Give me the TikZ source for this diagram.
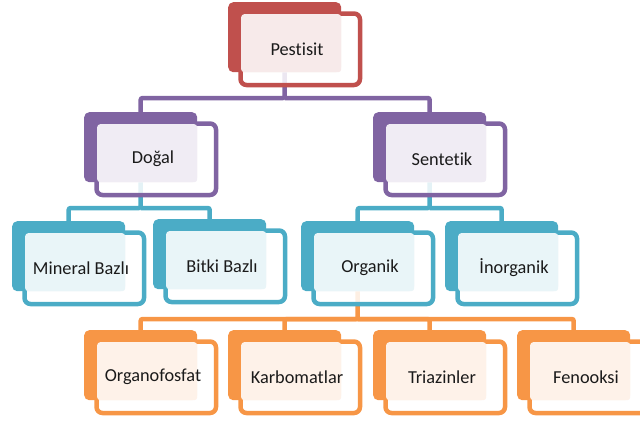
\documentclass[tikz,border=0pt]{standalone}
\usepackage{fontspec}
\setmainfont{Carlito}[Ligatures={NoCommon}]
\usetikzlibrary{calc}

\definecolor{cRed}{HTML}{C0504D}
\definecolor{cPurple}{HTML}{8064A2}
\definecolor{cBlue}{HTML}{4BACC6}
\definecolor{cOrange}{HTML}{F79646}
\definecolor{ink}{HTML}{1A1A1A}

\tikzset{
  backbox/.style={draw=none, fill=#1, rounded corners=5pt, inner sep=0pt,
    minimum width=113pt, minimum height=70pt, anchor=north west},
  framebox/.style={draw=#1, line width=4.5pt, fill=white, fill opacity=0.85,
    rounded corners=6pt, inner sep=0pt,
    minimum width=119.5pt, minimum height=71.5pt, anchor=north west},
  tintbox/.style={draw=none, fill=#1!12!white, rounded corners=3pt, inner sep=0pt,
    minimum width=100pt, minimum height=58pt, anchor=north west},
  label/.style={text=ink, font=\fontsize{18.3pt}{21pt}\selectfont, inner sep=0pt},
  link/.style={draw=#1, line width=4.5pt, rounded corners=2pt}
}

% back plate of a hierarchy item: #1 name, #2 top-left corner, #3 colour
\newcommand{\orgitem}[3]{%
  \node[backbox=#3] (#1B) at (#2) {};
  \coordinate (#1O) at (#2);
}
% offset white frame, tinted text panel and label: #1 name, #2 corner, #3 colour, #4 text
\newcommand{\orgfront}[4]{%
  \node[framebox=#3] (#1F) at ($(#2)+(10.25,9.25)$) {};
  \node[tintbox=#3] (#1T) at ($(#2)+(13,12)$) {};
  \node[label] (#1) at ($(#2)+(69,47)$) {#4};
}

\begin{document}
\begin{tikzpicture}[x=1pt, y=-1pt]
  \useasboundingbox (0,0) rectangle (640,423);
  \clip (0,0) rectangle (640,423);

  % back plates
  \orgitem{pest}{228,2}{cRed}
  \orgitem{dog}{84,112}{cPurple}
  \orgitem{sen}{373,112}{cPurple}
  \orgitem{min}{12,221}{cBlue}
  \orgitem{bit}{153,219}{cBlue}
  \orgitem{org}{301,221}{cBlue}
  \orgitem{ino}{445,221}{cBlue}
  \orgitem{ofs}{84,330}{cOrange}
  \orgitem{kar}{228,330}{cOrange}
  \orgitem{tri}{373,330}{cOrange}
  \orgitem{fen}{517,330}{cOrange}

  % bus levels
  \coordinate (busA) at (0,98);
  \coordinate (busB) at (0,208);
  \coordinate (busC) at (0,319);

  % connectors
  \draw[link=cPurple] (pestB.south) -- (pestB.south |- busA) -| (dogB.north);
  \draw[link=cPurple] (pestB.south |- busA) -| (senB.north);
  \draw[link=cBlue] (dogB.south) -- (dogB.south |- busB) -| (minB.north);
  \draw[link=cBlue] (dogB.south |- busB) -| (bitB.north);
  \draw[link=cBlue] (senB.south) -- (senB.south |- busB) -| (orgB.north);
  \draw[link=cBlue] (senB.south |- busB) -| (inoB.north);
  \draw[link=cOrange] (orgB.south) -- (orgB.south |- busC) -| (ofsB.north);
  \draw[link=cOrange] (orgB.south |- busC) -| (karB.north);
  \draw[link=cOrange] (orgB.south |- busC) -| (triB.north);
  \draw[link=cOrange] (orgB.south |- busC) -| (fenB.north);

  % frames, tinted panels and labels
  \orgfront{pest}{pestO}{cRed}{Pestisit}
  \orgfront{dog}{dogO}{cPurple}{Doğal}
  \orgfront{sen}{senO}{cPurple}{Sentetik}
  \orgfront{min}{minO}{cBlue}{Mineral Bazlı}
  \orgfront{bit}{bitO}{cBlue}{Bitki Bazlı}
  \orgfront{org}{orgO}{cBlue}{Organik}
  \orgfront{ino}{inoO}{cBlue}{İnorganik}
  \orgfront{ofs}{ofsO}{cOrange}{Organofosfat}
  \orgfront{kar}{karO}{cOrange}{Karbomatlar}
  \orgfront{tri}{triO}{cOrange}{Triazinler}
  \orgfront{fen}{fenO}{cOrange}{Fenooksi}
\end{tikzpicture}
\end{document}
